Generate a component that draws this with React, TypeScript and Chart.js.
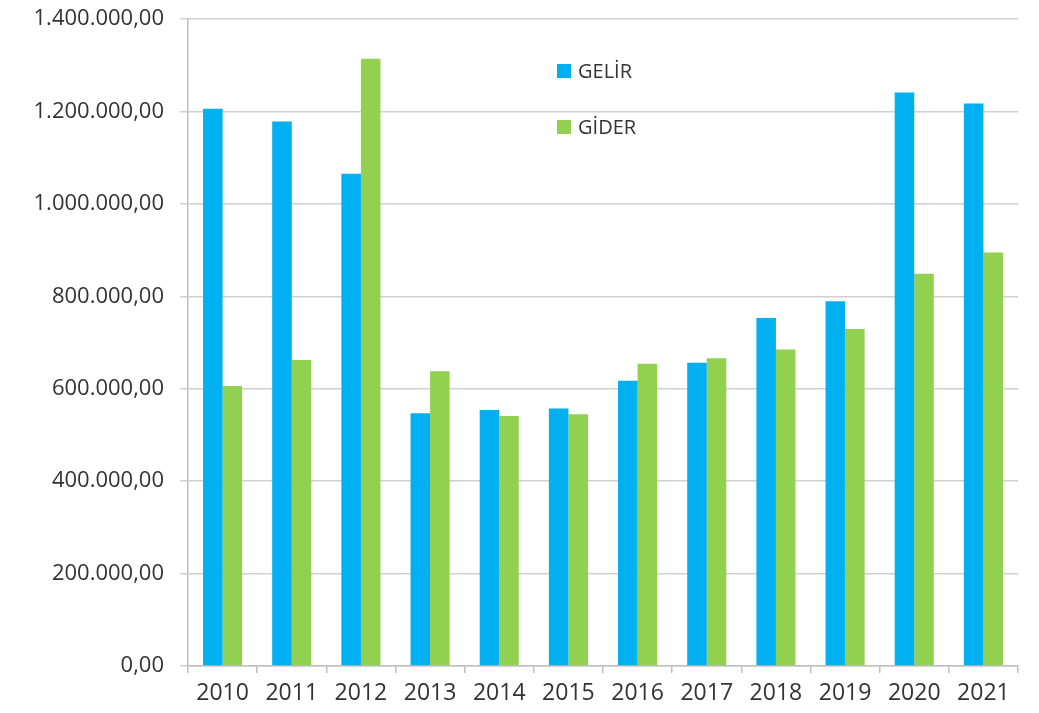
import React, { useEffect, useRef } from "react";
import { Chart, registerables } from "chart.js";

Chart.register(...registerables);

const categories = ["2010", "2011", "2012", "2013", "2014", "2015", "2016", "2017", "2018", "2019", "2020", "2021"];
const gelir = [1206000, 1178000, 1065000, 547000, 554000, 557000, 617000, 656000, 753000, 789000, 1241000, 1217000];
const gider = [606000, 662000, 1314000, 638000, 541000, 545000, 654000, 666000, 685000, 729000, 849000, 895000];
const seriesLabels = ["GELİR", "GİDER"];
const seriesColors = ["#00B0F0", "#92D050"];

const FONT = "'Open Sans', 'Noto Sans', sans-serif";
const TEXT = "#333333";

function fmt(v: number): string {
  const neg = v < 0;
  const s = Math.round(Math.abs(v)).toString();
  const parts: string[] = [];
  for (let i = s.length; i > 0; i -= 3) parts.unshift(s.substring(Math.max(0, i - 3), i));
  return (neg ? "-" : "") + parts.join(".") + ",00";
}

const legendPlugin = {
  id: "insideLegend",
  afterDraw(chart: any) {
    const ctx = chart.ctx;
    const items = chart.data.datasets;
    const x = 557;
    const ys = [71, 127];
    ctx.save();
    ctx.font = `20px ${FONT}`;
    ctx.textBaseline = "middle";
    ctx.textAlign = "left";
    items.forEach((ds: any, i: number) => {
      const y = ys[i];
      ctx.fillStyle = ds.backgroundColor;
      ctx.fillRect(x, y - 7, 14, 14);
      ctx.fillStyle = TEXT;
      ctx.fillText(ds.label, x + 21, y + 1);
    });
    ctx.restore();
  },
};

export default function App() {
  const ref = useRef<HTMLCanvasElement | null>(null);
  useEffect(() => {
    if (!ref.current) return;
    const chart = new Chart(ref.current, {
      type: "bar",
      data: {
        labels: categories,
        datasets: [
          { label: seriesLabels[0], data: gelir, backgroundColor: seriesColors[0], borderWidth: 0 },
          { label: seriesLabels[1], data: gider, backgroundColor: seriesColors[1], borderWidth: 0 },
        ],
      },
      options: {
        animation: false,
        responsive: true,
        maintainAspectRatio: false,
        layout: { padding: { left: 0, right: 21, top: 19, bottom: 0 } },
        datasets: { bar: { categoryPercentage: 0.565, barPercentage: 1 } },
        plugins: {
          legend: { display: false },
          tooltip: { enabled: false },
        },
        scales: {
          x: {
            grid: { display: true, drawOnChartArea: false, drawTicks: true, tickLength: 7, color: "#bfbfbf", lineWidth: 1.5, offset: true },
            border: { display: true, color: "#bfbfbf", width: 1.5 },
            ticks: { color: TEXT, font: { family: FONT, size: 23 }, padding: 7, maxRotation: 0 },
            afterFit: (s: any) => { s.height = 713 - 666; s.paddingLeft = 0; s.paddingRight = 0; },
          },
          y: {
            min: 0,
            max: 1400000,
            ticks: { stepSize: 200000, color: TEXT, font: { family: FONT, size: 22 }, padding: 16, callback: (v: any) => fmt(Number(v)) },
            grid: { color: "#d0d0d0", lineWidth: 1.5, drawTicks: true, tickLength: 8 },
            border: { display: true, color: "#bfbfbf", width: 1.5 },
            afterFit: (s: any) => { s.width = 188; s.paddingTop = 0; s.paddingBottom = 0; },
          },
        },
      },
      plugins: [legendPlugin],
    });
    return () => chart.destroy();
  }, []);
  return (
    <div style={{ position: "fixed", left: 0, top: 0, width: 1039, height: 713, background: "#fff" }}>
      <canvas ref={ref} />
    </div>
  );
}
